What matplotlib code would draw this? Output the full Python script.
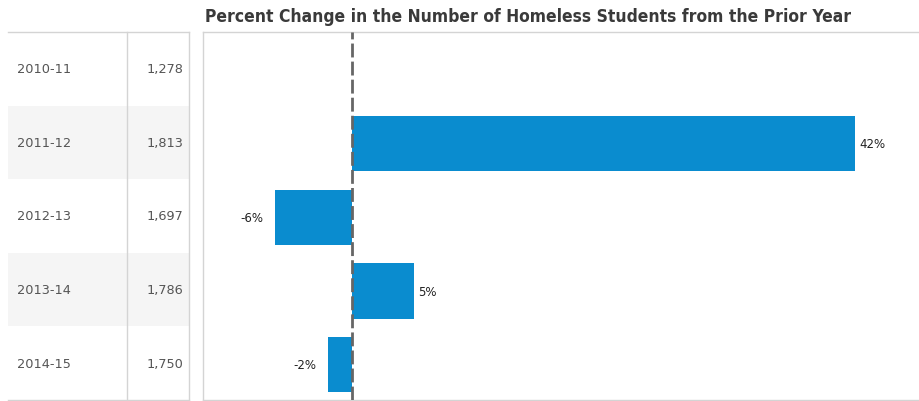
import matplotlib
matplotlib.use("Agg")
import matplotlib.pyplot as plt
from matplotlib.lines import Line2D
from matplotlib.patches import Rectangle

# School years, homeless student counts and change from the prior year (%)
years = ["2010-11", "2011-12", "2012-13", "2013-14", "2014-15"]
counts = ["1,278", "1,813", "1,697", "1,786", "1,750"]
pct_change = [None, 41.9, -6.4, 5.2, -2.0]

W, H = 919, 402
fig = plt.figure(figsize=(W / 100, H / 100), dpi=100)
fig.patch.set_facecolor("white")

# Background axes in pixel coordinates for the table part
bg = fig.add_axes([0, 0, 1, 1])
bg.set_xlim(0, W)
bg.set_ylim(H, 0)
bg.axis("off")

top, bottom = 33, 401
row_h = (bottom - top) / len(years)
line_c = "#d4d4d4"

for i, (yr, cnt) in enumerate(zip(years, counts)):
    y0 = top + i * row_h
    if i % 2 == 1:
        bg.add_patch(Rectangle((8, y0), 181, row_h, facecolor="#f5f5f5",
                               edgecolor="none", zorder=0))
    yc = y0 + row_h / 2
    bg.text(17, yc, yr, ha="left", va="center", fontsize=9.3, color="#555555")
    bg.text(183, yc, cnt, ha="right", va="center", fontsize=9.3, color="#555555")

# Table borders
bg.add_line(Line2D([8, 189], [top, top], color=line_c, lw=1))
bg.add_line(Line2D([8, 189], [bottom, bottom], color=line_c, lw=1))
bg.add_line(Line2D([127, 127], [top, bottom], color=line_c, lw=1))
bg.add_line(Line2D([189, 189], [top, bottom], color=line_c, lw=1))
# Chart panel borders
bg.add_line(Line2D([203, W], [top, top], color=line_c, lw=1))
bg.add_line(Line2D([203, W], [bottom, bottom], color=line_c, lw=1))
bg.add_line(Line2D([203, 203], [top, bottom], color=line_c, lw=1))

bg.text(528, 17, "Percent Change in the Number of Homeless Students from the Prior Year",
        ha="center", va="center", fontsize=12.5, fontweight="bold",
        fontstretch="condensed", family="DejaVu Sans", color="#3a3a3a")

# Bar chart axes
x0_px, zero_px, px_per_unit = 203, 352, 12.0
ax = fig.add_axes([x0_px / W, (H - bottom) / H, (W - x0_px) / W, (bottom - top) / H])
ax.patch.set_alpha(0)
ax.set_xlim(-(zero_px - x0_px) / px_per_unit, (W - zero_px) / px_per_unit)
ax.set_ylim(len(years) - 0.5 - 0.02, -0.5 - 0.02)
ax.axis("off")

ypos = list(range(len(years)))
vals = [v if v is not None else 0 for v in pct_change]
ax.barh(ypos, vals, height=0.75, color="#0a8ccf", zorder=2)

for y, v in zip(ypos, pct_change):
    if v is None:
        continue
    lbl = f"{v:.0f}%"
    if v >= 0:
        ax.text(v + 0.35, y, lbl, ha="left", va="center", fontsize=8.5, color="#222222")
    else:
        ax.text(v - 1.0, y, lbl, ha="right", va="center", fontsize=8.5, color="#222222")

ax.axvline(0, color="#666666", lw=2, ls=(0, (5, 1.5)), zorder=3)

fig.savefig("out.png", dpi=100)
